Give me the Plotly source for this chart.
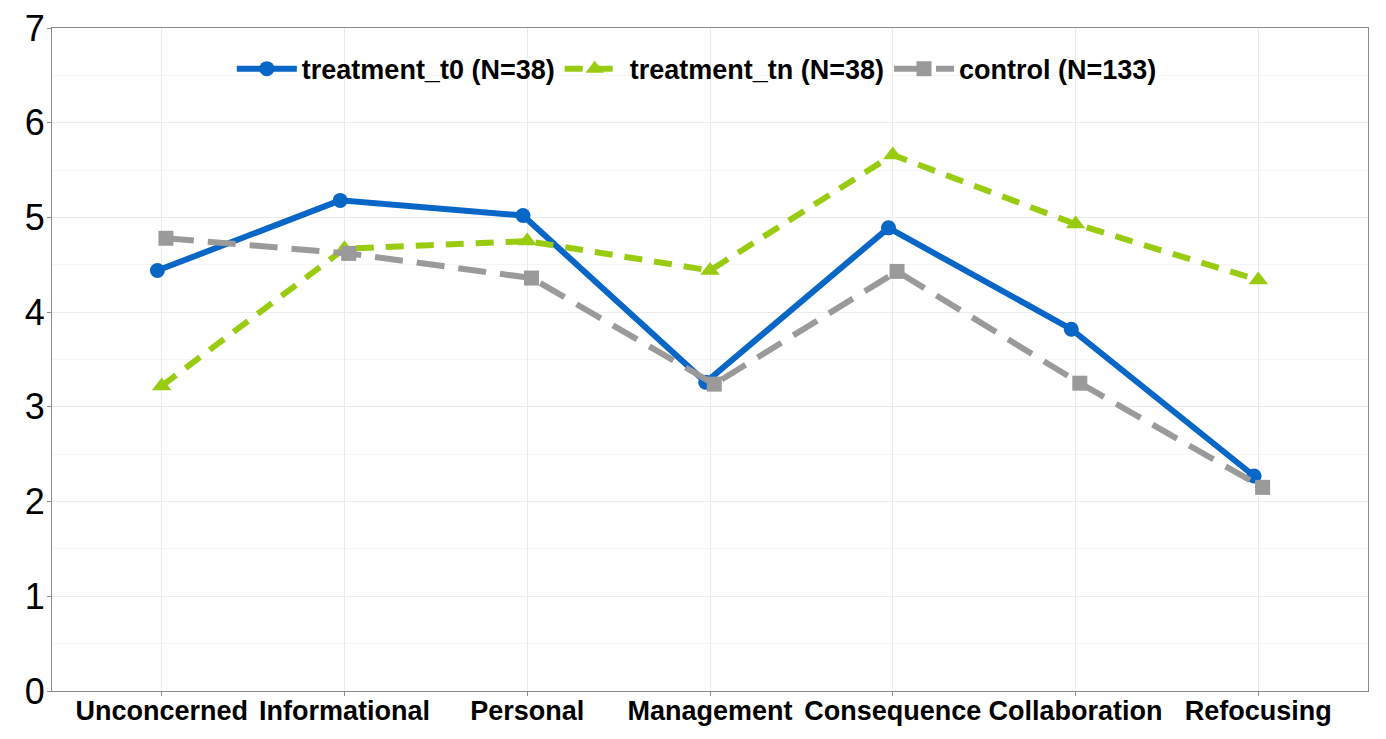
import plotly.graph_objects as go

categories = ["Unconcerned", "Informational", "Personal", "Management",
              "Consequence", "Collaboration", "Refocusing"]
treatment_t0 = [4.44, 5.18, 5.02, 3.26, 4.89, 3.82, 2.27]
treatment_tn = [3.22, 4.67, 4.75, 4.44, 5.66, 4.93, 4.34]
control = [4.78, 4.62, 4.36, 3.24, 4.43, 3.25, 2.15]

series_names = ["treatment_t0 (N=38)", "treatment_tn (N=38)", "control (N=133)"]
colors = ["#0866c6", "#99cc11", "#9a9a9a"]

fig = go.Figure()
fig.add_trace(go.Scatter(x=categories, y=treatment_t0, name=series_names[0],
                         mode="lines+markers", offsetgroup="a",
                         line=dict(color=colors[0], width=6),
                         marker=dict(symbol="circle", size=15, color=colors[0])))
fig.add_trace(go.Scatter(x=categories, y=treatment_tn, name=series_names[1],
                         mode="lines+markers", offsetgroup="b",
                         line=dict(color=colors[1], width=6, dash="18px,12px"),
                         marker=dict(symbol="triangle-up", size=17, color=colors[1])))
fig.add_trace(go.Scatter(x=categories, y=control, name=series_names[2],
                         mode="lines+markers", offsetgroup="c",
                         line=dict(color=colors[2], width=6, dash="28px,14px"),
                         marker=dict(symbol="square", size=15, color=colors[2])))

fig.update_layout(
    width=1378, height=731,
    margin=dict(l=44, r=18, t=20, b=48, autoexpand=False),
    paper_bgcolor="white", plot_bgcolor="white",
    scattermode="group", scattergap=0.93,
    font=dict(family="Liberation Sans, Arial, sans-serif", color="black"),
    legend=dict(orientation="h", x=0.49, xanchor="center", y=0.975, yanchor="top",
                font=dict(size=27, family="Liberation Sans, Arial, sans-serif", weight="bold"),
                bgcolor="rgba(0,0,0,0)", itemwidth=60, tracegroupgap=0),
    showlegend=True,
)
fig.update_xaxes(type="category", range=[-0.6, 6.6], automargin=False,
                 tickangle=0, ticklabeloverflow="allow",
                 showgrid=True, gridcolor="#ebebeb", gridwidth=1,
                 showline=True, linecolor="#8a8a8a", linewidth=1, mirror=True,
                 ticks="outside", ticklen=4, tickcolor="#8a8a8a",
                 ticklabelstandoff=-8,
                 tickfont=dict(size=27, family="Liberation Sans, Arial, sans-serif",
                               weight="bold", color="black"),
                 zeroline=False)
fig.update_yaxes(range=[0, 7], dtick=1, automargin=False,
                 ticklabeloverflow="allow",
                 showgrid=True, gridcolor="#ebebeb", gridwidth=1,
                 minor=dict(dtick=0.5, showgrid=True, gridcolor="#f5f5f5", gridwidth=1),
                 showline=True, linecolor="#8a8a8a", linewidth=1, mirror=True,
                 ticks="outside", ticklen=4, tickcolor="#8a8a8a",
                 ticklabelstandoff=-5,
                 tickfont=dict(size=36, family="Liberation Sans, Arial, sans-serif", color="black"),
                 zeroline=False)

fig.write_html("out.html")
